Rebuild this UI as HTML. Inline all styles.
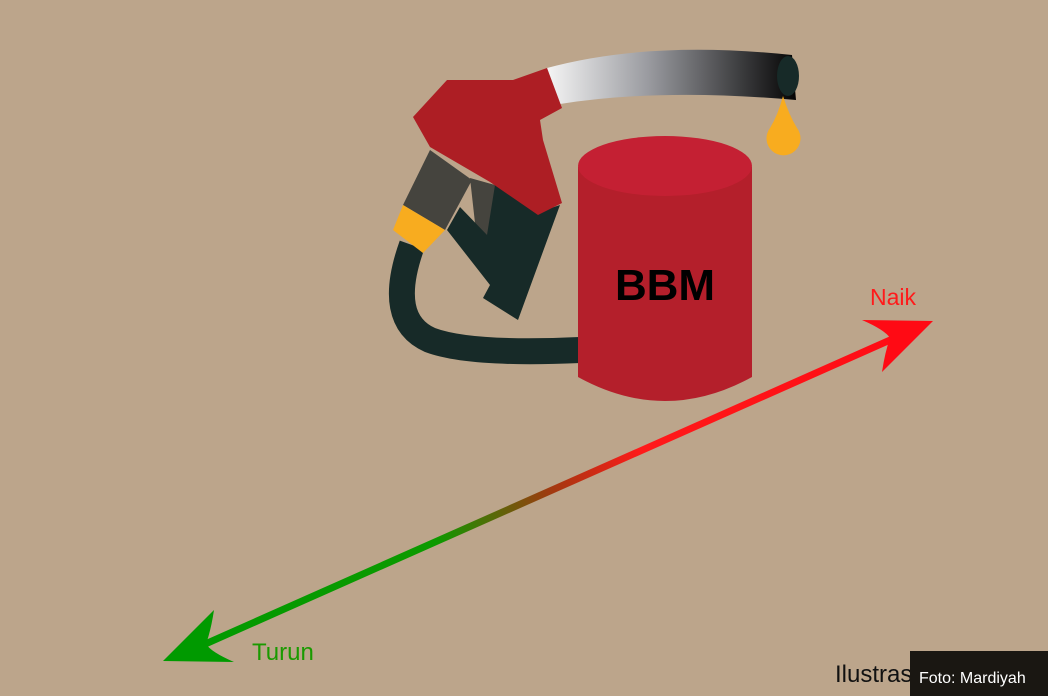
<!DOCTYPE html>
<html><head><style>
body{margin:0;background:#bca58b;}
svg{display:block}
</style></head><body>
<svg width="1048" height="696" viewBox="0 0 1048 696" xmlns="http://www.w3.org/2000/svg">
<defs>
<linearGradient id="hg" x1="550" y1="0" x2="795" y2="0" gradientUnits="userSpaceOnUse">
<stop offset="0" stop-color="#f2f2f2"/><stop offset="0.4" stop-color="#9a9ba0"/><stop offset="1" stop-color="#050505"/></linearGradient>
<linearGradient id="ag" x1="170" y1="660" x2="930" y2="322" gradientUnits="userSpaceOnUse">
<stop offset="0" stop-color="#009a00"/><stop offset="0.35" stop-color="#0c9a00"/><stop offset="0.5" stop-color="#a03a10"/><stop offset="0.62" stop-color="#ff1a1a"/><stop offset="1" stop-color="#ff0a14"/></linearGradient>
</defs>
<rect width="1048" height="696" fill="#bca58b"/>
<path d="M547 68 Q650 40 792 55 L796 100 Q660 88 560 104 Z" fill="url(#hg)"/>
<ellipse cx="788" cy="76" rx="11" ry="20" fill="#172a28"/>
<path d="M783 96 Q778 115 770 128 A17 17 0 1 0 797 128 Q789 115 783 96Z" fill="#f8ac1f"/>
<path d="M412 245 Q385 320 430 340 Q470 355 580 350" fill="none" stroke="#172a28" stroke-width="26"/>
<polygon points="430,150 403,205 445,230 472,180" fill="#45443e"/>
<polygon points="470,178 478,250 505,245 495,185" fill="#45443e"/>
<polygon points="447,230 460,207 487,235 495,185 507,187 545,210 560,205 518,320 483,298 490,285" fill="#172a28"/>
<polygon points="403,205 393,230 423,253 445,230" fill="#f8ac1f"/>
<polygon points="413,117 447,80 513,80 547,68 562,108 540,120 543,140 562,203 538,215 490,182 430,147" fill="#ad1e24"/>
<path d="M578 167 L578 377 Q665 425 752 377 L752 167 Z" fill="#b41f2b"/>
<ellipse cx="665" cy="166" rx="87" ry="30" fill="#c42033"/>
<text x="665" y="300" text-anchor="middle" font-family="Liberation Sans, sans-serif" font-weight="bold" font-size="44" fill="#000" textLength="100">BBM</text>
<line x1="185" y1="653" x2="915" y2="329" stroke="url(#ag)" stroke-width="7"/>
<path d="M933 321 L862 320 Q885 330 890 338 Q885 352 882 372 Z" fill="#ff0a14"/>
<path d="M163 661 L234 662 Q211 652 206 644 Q211 630 214 610 Z" fill="#009a00"/>
<text x="870" y="305" font-family="Liberation Sans, sans-serif" font-size="23" fill="#ff1a1a">Naik</text>
<text x="252" y="660" font-family="Liberation Sans, sans-serif" font-size="24" fill="#1a9a00">Turun</text>
<text x="835" y="682" font-family="Liberation Sans, sans-serif" font-size="24" fill="#111">Ilustrasi Mardiyah</text>
<rect x="910" y="651" width="138" height="45" fill="#1a1712"/>
<text x="919" y="683" font-family="Liberation Sans, sans-serif" font-size="16" fill="#fff">Foto: Mardiyah</text>
</svg>
</body></html>
